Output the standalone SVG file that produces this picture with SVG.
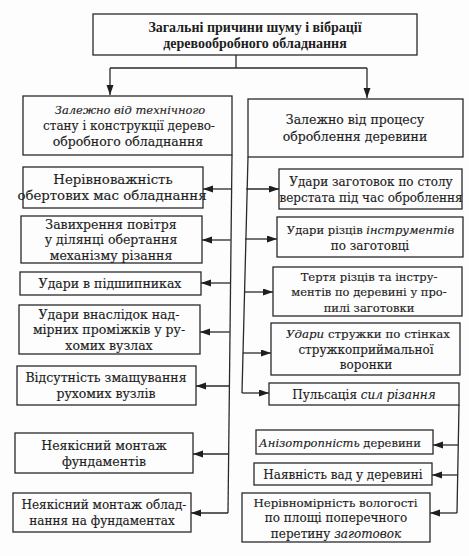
<svg xmlns="http://www.w3.org/2000/svg" width="469" height="556" viewBox="0 0 469 556">
<defs>
<marker id="ah" markerUnits="userSpaceOnUse" markerWidth="11" markerHeight="8" refX="10" refY="3.5" orient="auto">
<path d="M0,0 L10,3.5 L0,7 z" fill="#1e1e1e"/>
</marker>
<style>
.box{fill:#fdfdfd;stroke:#2a2a2a;stroke-width:1.3}
.ln{fill:none;stroke:#2a2a2a;stroke-width:1.3}
.ar{fill:none;stroke:#2a2a2a;stroke-width:1.3;marker-end:url(#ah)}
text{font-family:"DejaVu Serif","Liberation Serif",serif;font-size:12.5px;fill:#1e1e1e;text-anchor:middle;stroke:#1e1e1e;stroke-width:0.15}
.b{font-family:"Liberation Serif","DejaVu Serif",serif;font-size:14px;font-weight:bold;stroke-width:0}
.i{font-style:italic}
.s12{font-size:12px}
.s115{font-size:11.5px}
.s118{font-size:11.8px}
.s133{font-size:13.3px}
</style>
</defs>
<rect x="0" y="0" width="469" height="556" fill="#fdfdfd"/>

<g id="connectors">
<polyline class="ln" points="236,55 236,68"/>
<polyline class="ln" points="110,68 367,68"/>
<polyline class="ar" points="110,68 110,95"/>
<polyline class="ar" points="367,68 367,98"/>
<polyline class="ln" points="232,155 228,513"/>
<polyline class="ar" points="231.1,189 203,189"/>
<polyline class="ar" points="230.6,240 202,240"/>
<polyline class="ar" points="230.2,283 201,283"/>
<polyline class="ar" points="229.7,332 200,332"/>
<polyline class="ar" points="229.2,386 196,386"/>
<polyline class="ar" points="228.6,454 193,454"/>
<polyline class="ar" points="228,513 191,513"/>
<polyline class="ln" points="248,157 242,393"/>
<polyline class="ar" points="246.2,189 279,189"/>
<polyline class="ar" points="245.1,239 277,239"/>
<polyline class="ar" points="244.1,292 273,292"/>
<polyline class="ar" points="242.8,353 271,353"/>
<polyline class="ar" points="242,393 269,393"/>
<polyline class="ln" points="459,405 457,513"/>
<polyline class="ar" points="458.2,445 433,445"/>
<polyline class="ar" points="457.6,475 432,475"/>
<polyline class="ar" points="457,513 430,513"/>
</g>

<g id="root">
<rect class="box" x="93" y="14" width="324" height="41"/>
<text class="b" x="255" y="32">Загальні причини шуму і вібрації</text>
<text class="b" x="255" y="48">деревообробного обладнання</text>
</g>

<g id="cat-tech">
<rect class="box" x="23" y="96" width="209" height="59"/>
<text class="i s115" x="130" y="114">Залежно від технічного</text>
<text class="s12" x="129" y="130">стану і конструкції дерево-</text>
<text x="128" y="146">обробного обладнання</text>
</g>

<g id="cat-process">
<rect class="box" x="248" y="99" width="215" height="58"/>
<text x="355" y="124">Залежно від процесу</text>
<text x="355" y="141">оброблення деревини</text>
</g>

<g id="t1">
<rect class="box" x="23" y="167" width="180" height="41"/>
<text class="s133" x="113" y="184">Нерівноважність</text>
<text class="s133" x="112" y="200">обертових мас обладнання</text>
</g>
<g id="t2">
<rect class="box" x="21" y="216" width="181" height="47"/>
<text x="111" y="228.5">Завихрення повітря</text>
<text x="111" y="244">у ділянці обертання</text>
<text x="111" y="259.5">механізму різання</text>
</g>
<g id="t3">
<rect class="box" x="20" y="272" width="181" height="23"/>
<text x="110" y="288">Удари в підшипниках</text>
</g>
<g id="t4">
<rect class="box" x="19" y="305" width="181" height="49"/>
<text x="109" y="318.5">Удари внаслідок над-</text>
<text x="109" y="334">мірних проміжків у ру-</text>
<text x="109" y="349.5">хомих вузлах</text>
</g>
<g id="t5">
<rect class="box" x="17" y="366" width="179" height="39"/>
<text x="106" y="382">Відсутність змащування</text>
<text x="106" y="398">рухомих вузлів</text>
</g>
<g id="t6">
<rect class="box" x="15" y="433" width="178" height="40"/>
<text x="104" y="449.5">Неякісний монтаж</text>
<text x="104" y="465.5">фундаментів</text>
</g>
<g id="t7">
<rect class="box" x="13" y="493" width="178" height="39"/>
<text class="s12" x="104" y="509">Неякісний монтаж облад-</text>
<text class="s12" x="102" y="525">нання на фундаментах</text>
</g>

<g id="p1">
<rect class="box" x="279" y="169" width="183" height="40"/>
<text class="s12" x="371" y="185.5">Удари заготовок по столу</text>
<text class="s12" x="371" y="201.5">верстата під час оброблення</text>
</g>
<g id="p2">
<rect class="box" x="277" y="217" width="186" height="40"/>
<text class="s115" x="370.5" y="233.5">Удари різців <tspan class="i">інструментів</tspan></text>
<text class="s12" x="370" y="249.5">по заготовці</text>
</g>
<g id="p3">
<rect class="box" x="273" y="267" width="189" height="49"/>
<text class="s115" x="369" y="280.5">Тертя  різців та інстру-</text>
<text class="s115" x="369" y="296">ментів по деревині у про-</text>
<text class="s115" x="369" y="311.5">пилі заготовки</text>
</g>
<g id="p4">
<rect class="box" x="271" y="323" width="189" height="52"/>
<text class="s118" x="368" y="338"><tspan class="i">Удари</tspan> стружки по стінках</text>
<text class="s12" x="366" y="353.5">стружкоприймальної</text>
<text class="s12" x="366" y="369">воронки</text>
</g>
<g id="p5">
<rect class="box" x="269" y="383" width="190" height="22"/>
<text class="s12" x="364" y="398.5">Пульсація <tspan class="i">сил різання</tspan></text>
</g>
<g id="w1">
<rect class="box" x="256" y="430" width="177" height="24"/>
<text class="s115" x="340" y="446.5"><tspan class="i">Анізотропність</tspan> деревини</text>
</g>
<g id="w2">
<rect class="box" x="254" y="463" width="178" height="22"/>
<text class="s12" x="343" y="478.5">Наявність вад у деревині</text>
</g>
<g id="w3">
<rect class="box" x="242" y="493" width="188" height="49"/>
<text class="s118" x="335.5" y="506.5">Нерівномірність вологості</text>
<text class="s12" x="336" y="522">по площі поперечного</text>
<text class="s12" x="336" y="537.5">перетину <tspan class="i">заготовок</tspan></text>
</g>
</svg>
